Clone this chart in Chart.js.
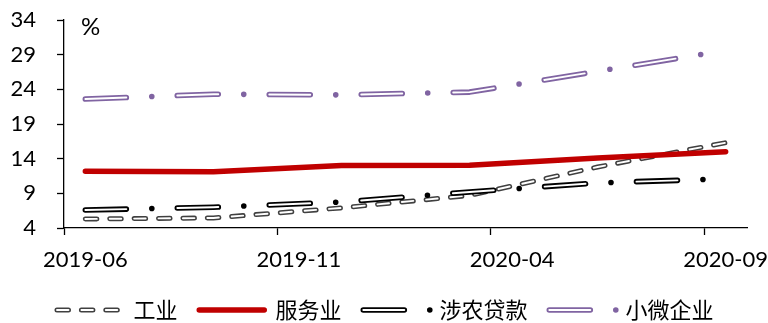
<!DOCTYPE html>
<html>
<head>
<meta charset="utf-8">
<script src="https://cdn.jsdelivr.net/npm/chart.js@4.4.1/dist/chart.umd.min.js"></script>
<style>
  html, body { margin: 0; padding: 0; background: #fff; }
</style>
</head>
<body>
<canvas id="grafikKredit" width="768" height="323"></canvas>
<script>
// monthly axis, points sit in the middle of each month
const months = ['2019-06', '2019-07', '2019-08', '2019-09', '2019-10', '2019-11', '2019-12', '2020-01',
                '2020-02', '2020-03', '2020-04', '2020-05', '2020-06', '2020-07', '2020-08', '2020-09'];
const tickLabels = ['2019-06', '2019-11', '2020-04', '2020-09'];
const dates = ['2019-06', '2019-09', '2019-12', '2020-03', '2020-06', '2020-09'];

const seriesNames = ['工业', '服务业', '涉农贷款', '小微企业'];
const industry = [5.3, 5.45, 6.9, 8.7, 12.8, 16.3];
const services = [12.2, 12.1, 13.0, 13.05, 14.1, 15.0];
const agri = [6.6, 7.0, 7.75, 9.2, 10.5, 11.1];
const smallBiz = [22.6, 23.3, 23.2, 23.6, 26.6, 29.6];

const yTicks = { min: 4, max: 34, step: 5 };

// hollow lines = thick coloured stroke + thin white stroke on top
const INNER_WIDTH = 1.9;
const styles = {
    industry: { color: '#404040', width: 5, dash: [11.5, 12.9], innerDash: [11.5, 12.9], sample: 61 },
    services: { color: '#C00000', width: 5.5, sample: 65 },
    agri: { color: '#000000', width: 5.6, dash: [41, 25.5, 0, 25.5], innerDash: [41, 51], sample: 67.5 },
    smallBiz: { color: '#8064A2', width: 5.6, dash: [41, 25.5, 0, 25.5], innerDash: [41, 51], sample: 67.5 },
};

function toPoints(values) {
    return dates.map((d, i) => ({ x: d, y: values[i] }));
}

function lineSet(label, values, st, order, inner) {
    return {
        label: inner ? '' : label,
        data: toPoints(values),
        borderColor: inner ? '#ffffff' : st.color,
        borderWidth: inner ? INNER_WIDTH : st.width,
        borderDash: inner ? st.innerDash : (st.dash || []),
        borderCapStyle: 'round',
        borderJoinStyle: 'round',
        pointRadius: 0,
        pointHoverRadius: 0,
        tension: 0,
        fill: false,
        order: order,
    };
}

function strokeSeg(ctx, x0, x1, y, color, width, dash) {
    ctx.beginPath();
    ctx.strokeStyle = color;
    ctx.lineWidth = width;
    ctx.lineCap = 'round';
    ctx.setLineDash(dash || []);
    ctx.moveTo(x0, y);
    ctx.lineTo(x1, y);
    ctx.stroke();
}

function drawSample(ctx, x, y, st) {
    let x0 = x + st.width / 2;
    let x1 = x0 + st.sample;
    strokeSeg(ctx, x0, x1, y, st.color, st.width, st.dash);
    if (st.innerDash) strokeSeg(ctx, x0, x1, y, '#ffffff', INNER_WIDTH, st.innerDash);
}

// legend under the axis + the "%" unit
const legendBawah = {
    id: 'legendBawah',
    afterDraw(chart) {
        const ctx = chart.ctx;
        const items = [
            [seriesNames[0], styles.industry],
            [seriesNames[1], styles.services],
            [seriesNames[2], styles.agri],
            [seriesNames[3], styles.smallBiz],
        ];
        const textOffset = 79, spacing = 19, y = 310;
        ctx.save();
        ctx.font = '22px "Noto Sans CJK SC"';
        ctx.textBaseline = 'middle';
        let widths = items.map(it => ctx.measureText(it[0]).width);
        let total = widths.reduce((a, b) => a + b, 0) + items.length * textOffset + (items.length - 1) * spacing;
        let x = chart.width / 2 - total / 2;
        items.forEach(([name, st], i) => {
            drawSample(ctx, x, y, st);
            ctx.fillStyle = '#000';
            ctx.fillText(name, x + textOffset, y);
            x += textOffset + widths[i] + spacing;
        });

        ctx.font = '24px Lato';
        ctx.fillStyle = '#000';
        ctx.fillText('%', chart.chartArea.left + 17, 27);
        ctx.restore();
    }
};

const ctx = document.getElementById('grafikKredit').getContext('2d');
let config = {
    type: 'line',
    data: {
        labels: months,
        datasets: [
            lineSet(seriesNames[0], industry, styles.industry, 7, false),
            lineSet(seriesNames[0], industry, styles.industry, 6, true),
            lineSet(seriesNames[1], services, styles.services, 5, false),
            lineSet(seriesNames[2], agri, styles.agri, 4, false),
            lineSet(seriesNames[2], agri, styles.agri, 3, true),
            lineSet(seriesNames[3], smallBiz, styles.smallBiz, 2, false),
            lineSet(seriesNames[3], smallBiz, styles.smallBiz, 1, true),
        ],
    },
    options: {
        responsive: false,
        animation: false,
        layout: { padding: { top: 20, right: 21, bottom: 0, left: 0 } },
        plugins: {
            legend: { display: false },
            tooltip: { enabled: false },
        },
        scales: {
            x: {
                type: 'category',
                offset: true,
                border: { color: '#000', width: 1.3 },
                grid: {
                    offset: true,
                    drawOnChartArea: false,
                    tickLength: 7,
                    tickWidth: 1.3,
                    tickColor: c => tickLabels.includes(months[c.index]) ? '#000' : 'rgba(0,0,0,0)',
                },
                ticks: {
                    autoSkip: false,
                    maxRotation: 0,
                    padding: 12,
                    color: '#000',
                    font: { family: 'Lato', size: 22 },
                    callback: (v, i) => tickLabels.includes(months[i]) ? months[i] : '',
                },
                afterFit: s => { s.height = 95; s.paddingLeft = 0; s.paddingRight = 0; },
            },
            y: {
                min: yTicks.min,
                max: yTicks.max,
                border: { color: '#000', width: 1.3 },
                grid: { drawOnChartArea: false, tickLength: 7, tickWidth: 1.3, tickColor: '#000' },
                ticks: {
                    stepSize: yTicks.step,
                    padding: 21,
                    color: '#000',
                    font: { family: 'Lato', size: 22 },
                },
                afterFit: s => { s.width = 64; s.paddingTop = 0; s.paddingBottom = 0; },
            },
        },
    },
    plugins: [legendBawah],
};

let chart = new Chart(ctx, config);
</script>
</body>
</html>
